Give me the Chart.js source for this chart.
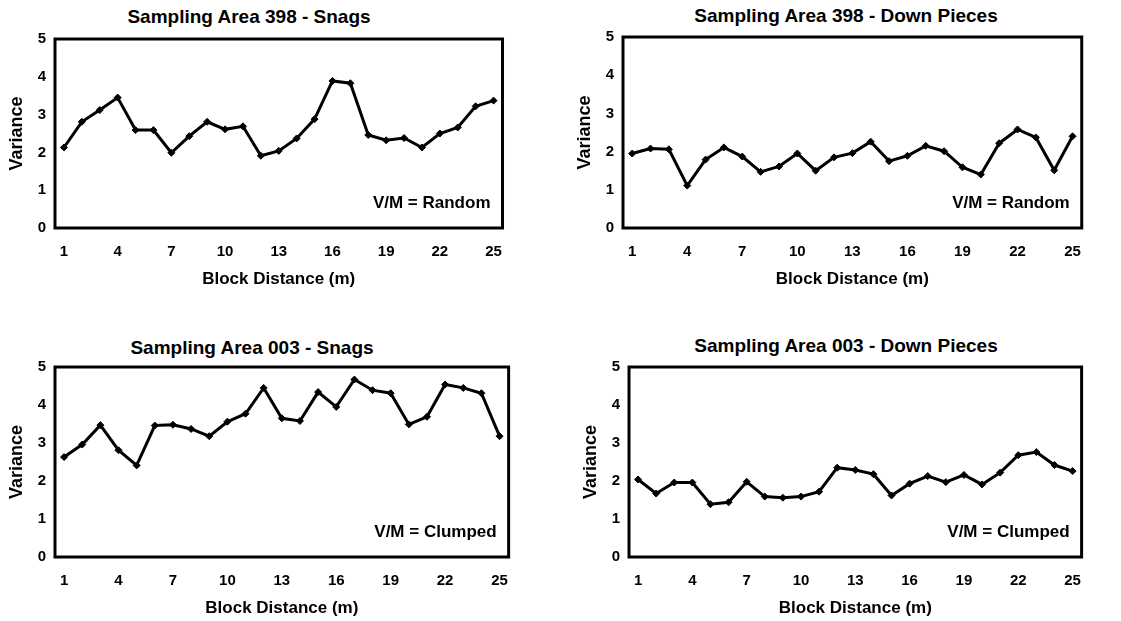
<!DOCTYPE html>
<html lang="en">
<head>
<meta charset="UTF-8">
<title>Variance by Block Distance</title>
<script src="https://cdn.jsdelivr.net/npm/chart.js@4.4.1/dist/chart.umd.min.js"></script>
<style>
  body { margin: 0; background: #fff; font-family: "Liberation Sans", Arial, sans-serif; }
  #page { position: relative; width: 1121px; height: 621px; overflow: hidden; }
  .panel { position: absolute; }
  .ttl {
    position: absolute;
    width: 400px;
    text-align: center;
    font-weight: bold;
    font-size: 19px;
    line-height: 22px;
    color: #000;
  }
</style>
</head>
<body>
<div id="page">
  <div class="ttl" style="left:49px;top:6px">Sampling Area 398 - Snags</div>
  <div class="ttl" style="left:646px;top:5px">Sampling Area 398 - Down Pieces</div>
  <div class="ttl" style="left:52px;top:337px">Sampling Area 003 - Snags</div>
  <div class="ttl" style="left:646px;top:335px">Sampling Area 003 - Down Pieces</div>

  <div class="panel" style="left:0;top:21px;width:517px;height:271px"><canvas id="snags398"></canvas></div>
  <div class="panel" style="left:568px;top:19px;width:528px;height:273px"><canvas id="down398"></canvas></div>
  <div class="panel" style="left:0;top:349px;width:523px;height:272px"><canvas id="snags003"></canvas></div>
  <div class="panel" style="left:574px;top:349px;width:522px;height:272px"><canvas id="down003"></canvas></div>
</div>

<script>
// block distance (m) along the transect
const blockDistance = ['1','2','3','4','5','6','7','8','9','10','11','12','13',
                       '14','15','16','17','18','19','20','21','22','23','24','25'];

// variance per block
const snags398 = [2.13, 2.81, 3.12, 3.45, 2.59, 2.59, 1.99, 2.43, 2.81, 2.61, 2.69, 1.91, 2.04,
                  2.37, 2.88, 3.89, 3.83, 2.46, 2.32, 2.38, 2.13, 2.50, 2.66, 3.22, 3.37];
const down398  = [1.95, 2.08, 2.06, 1.11, 1.79, 2.11, 1.87, 1.47, 1.61, 1.95, 1.50, 1.85, 1.96,
                  2.26, 1.75, 1.89, 2.15, 2.01, 1.59, 1.40, 2.22, 2.58, 2.37, 1.51, 2.40];
const snags003 = [2.63, 2.96, 3.47, 2.81, 2.41, 3.46, 3.48, 3.37, 3.18, 3.56, 3.77, 4.45, 3.65,
                  3.58, 4.34, 3.95, 4.67, 4.39, 4.31, 3.49, 3.69, 4.54, 4.45, 4.31, 3.18];
const down003  = [2.04, 1.67, 1.96, 1.96, 1.39, 1.44, 1.98, 1.59, 1.56, 1.59, 1.72, 2.35, 2.29,
                  2.18, 1.62, 1.93, 2.13, 1.97, 2.16, 1.91, 2.22, 2.68, 2.76, 2.42, 2.26];

// variance/mean result for each sampling area
const vm398 = 'V/M = Random';
const vm003 = 'V/M = Clumped';

Chart.defaults.font.family = '"Liberation Sans", Arial, sans-serif';
Chart.defaults.color = '#000';

// frame around the plot area plus the V/M note in the lower right corner
const boxAndNote = {
  id: 'boxAndNote',
  beforeDatasetsDraw(chart, args, opts) {
    const ctx = chart.ctx;
    const a = chart.chartArea;
    ctx.save();
    ctx.lineWidth = 3;
    ctx.strokeStyle = '#000';
    ctx.strokeRect(a.left, a.top, a.right - a.left, a.bottom - a.top);
    ctx.font = 'bold 17px "Liberation Sans", Arial, sans-serif';
    ctx.fillStyle = '#000';
    ctx.textAlign = 'right';
    ctx.textBaseline = 'middle';
    ctx.fillText(opts.note, a.right - 12, a.bottom - 25);
    ctx.restore();
  }
};

function makeChart(id, values, note) {
  return new Chart(id, {
    type: 'line',
    data: {
      labels: blockDistance,
      datasets: [{
        data: values,
        borderColor: '#000',
        backgroundColor: '#000',
        borderWidth: 3,
        tension: 0,
        fill: false,
        pointStyle: 'rectRot',
        pointRadius: 3.5,
        pointBackgroundColor: '#000',
        pointBorderColor: '#000',
        pointBorderWidth: 1
      }]
    },
    options: {
      responsive: true,
      maintainAspectRatio: false,
      animation: false,
      layout: { padding: 0 },
      plugins: {
        legend: { display: false },
        tooltip: { enabled: false },
        boxAndNote: { note: note }
      },
      scales: {
        x: {
          offset: true,
          grid: { display: false, drawTicks: false, tickLength: 0 },
          border: { display: false },
          ticks: {
            autoSkip: false,
            maxRotation: 0,
            padding: 15,
            font: { size: 15, weight: 'bold' },
            // label every third block
            callback: function (v, i) { return i % 3 === 0 ? this.getLabelForValue(v) : ''; }
          },
          title: {
            display: true,
            text: 'Block Distance (m)',
            font: { size: 17, weight: 'bold' },
            padding: { top: 5, bottom: 2 }
          },
          afterFit(scale) { scale.height = 64; }
        },
        y: {
          min: 0,
          max: 5,
          grid: { display: false, drawTicks: false, tickLength: 0 },
          border: { display: false },
          ticks: { stepSize: 1, padding: 9, font: { size: 15, weight: 'bold' } },
          title: {
            display: true,
            text: 'Variance',
            font: { size: 18, weight: 'bold' },
            padding: { top: 6, bottom: 4 }
          },
          afterFit(scale) { scale.width = 55; }
        }
      }
    },
    plugins: [boxAndNote]
  });
}

makeChart('snags398', snags398, vm398);
makeChart('down398', down398, vm398);
makeChart('snags003', snags003, vm003);
makeChart('down003', down003, vm003);
</script>
</body>
</html>
